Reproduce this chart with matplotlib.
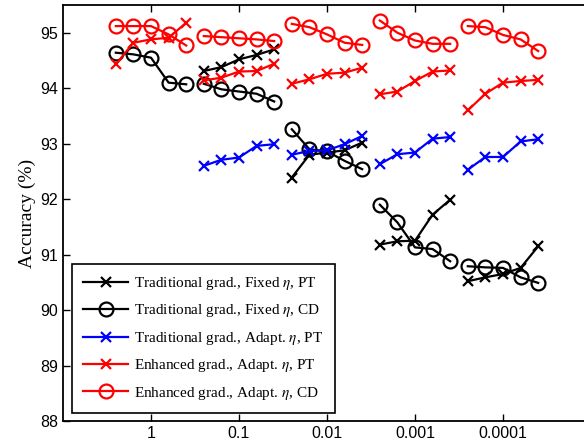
import matplotlib
matplotlib.use('Agg')
import matplotlib.pyplot as plt
import numpy as np

plt.rcParams['mathtext.fontset'] = 'stix'

# learning rates (one group of points per rate) and offsets in decades inside a group
rates = [1, 0.1, 0.01, 0.001, 0.0001]
offsets = [0.4, 0.2, 0.0, -0.2, -0.4]

trad_fixed_pt = [None,
                 [94.31, 94.38, 94.52, 94.60, 94.70],
                 [92.39, 92.80, 92.84, 92.88, 93.02],
                 [91.18, 91.24, 91.25, 91.72, 91.99],
                 [90.52, 90.59, 90.65, 90.76, 91.15]]
trad_fixed_cd = [[94.64, 94.61, 94.55, 94.10, 94.07],
                 [94.08, 93.98, 93.94, 93.90, 93.76],
                 [93.26, 92.90, 92.86, 92.69, 92.54],
                 [91.90, 91.58, 91.13, 91.10, 90.88],
                 [90.79, 90.77, 90.76, 90.59, 90.49]]
trad_adapt_pt = [None,
                 [92.60, 92.71, 92.75, 92.96, 92.99],
                 [92.80, 92.87, 92.88, 92.99, 93.14],
                 [92.63, 92.81, 92.84, 93.09, 93.12],
                 [92.53, 92.76, 92.76, 93.04, 93.08]]
enh_adapt_pt = [[94.43, 94.82, 94.88, 94.91, 95.18],
                [94.14, 94.19, 94.30, 94.31, 94.44],
                [94.08, 94.16, 94.26, 94.28, 94.37],
                [93.89, 93.94, 94.13, 94.30, 94.32],
                [93.60, 93.90, 94.10, 94.13, 94.15]]
enh_adapt_cd = [[95.12, 95.12, 95.12, 94.97, 94.77],
                [94.94, 94.92, 94.90, 94.88, 94.85],
                [95.16, 95.10, 94.97, 94.82, 94.78],
                [95.22, 95.00, 94.86, 94.80, 94.80],
                [95.12, 95.10, 94.96, 94.88, 94.67]]

series = [
    (trad_fixed_pt, 'k', 'x', r'Traditional grad., Fixed $\eta$, PT'),
    (trad_fixed_cd, 'k', 'o', r'Traditional grad., Fixed $\eta$, CD'),
    (trad_adapt_pt, 'b', 'x', r'Traditional grad., Adapt. $\eta$, PT'),
    (enh_adapt_pt, 'r', 'x', r'Enhanced grad., Adapt. $\eta$, PT'),
    (enh_adapt_cd, 'r', 'o', r'Enhanced grad., Adapt. $\eta$, CD'),
]

fig = plt.figure(figsize=(5.84, 4.42), dpi=100)
ax = fig.add_axes([63/584, 21/442, 528/584, 416/442])

for groups, col, mk, lab in series:
    first = True
    for lr, vals in zip(rates, groups):
        if vals is None:
            continue
        xs = [lr * 10**o for o in offsets]
        kw = dict(color=col, marker=mk, lw=1.6, mew=1.6)
        if mk == 'o':
            kw.update(markersize=10, markerfacecolor='none')
        else:
            kw.update(markersize=7)
        ax.plot(xs, vals, label=lab if first else None, **kw)
        first = False

ax.set_xscale('log')
ax.set_xlim(10, 1e-5)
ax.set_ylim(88, 95.5)
ax.set_xticks(rates)
ax.set_xticklabels(['1', '0.1', '0.01', '0.001', '0.0001'])
ax.xaxis.set_minor_locator(matplotlib.ticker.NullLocator())
ax.set_yticks(np.arange(88, 96, 1))
ax.tick_params(direction='in', top=True, right=True, length=5, width=1,
               labelsize=11.5)
for lbl in ax.get_xticklabels() + ax.get_yticklabels():
    lbl.set_family('Liberation Sans')
for s in ax.spines.values():
    s.set_linewidth(1.3)

ax.set_ylabel('Accuracy (%)', family='Liberation Serif', fontsize=14, labelpad=3)

leg = ax.legend(loc='lower left', bbox_to_anchor=(0.017, 0.019), borderaxespad=0,
                fancybox=False, edgecolor='k', framealpha=1, handlelength=2.9,
                handletextpad=0.4, labelspacing=0.68, borderpad=0.75,
                prop={'family': 'Liberation Serif', 'size': 11})
leg.get_frame().set_linewidth(1.2)

plt.savefig('out.png', dpi=100)
plt.close()
